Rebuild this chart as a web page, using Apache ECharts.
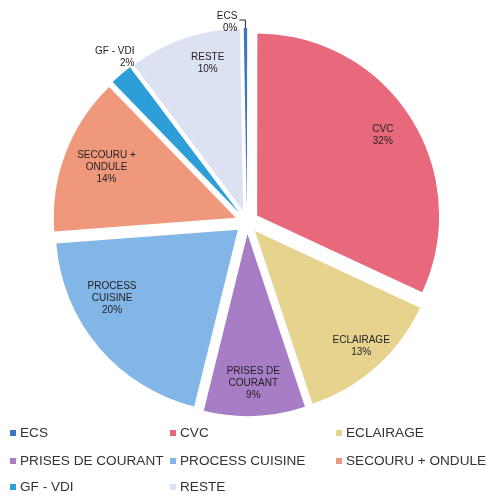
<!DOCTYPE html>
<html>
<head>
<meta charset="utf-8">
<script src="https://cdn.jsdelivr.net/npm/echarts@6/dist/echarts.min.js"></script>
<style>
  html, body { margin: 0; padding: 0; background: #fff; }
  #chart { width: 488px; height: 496px; }
</style>
</head>
<body>
<div id="chart"></div>
<script>
// postes de consommation, dans l'ordre de la légende
const categories = ['ECS', 'CVC', 'ECLAIRAGE', 'PRISES DE COURANT', 'PROCESS CUISINE', 'SECOURU + ONDULE', 'GF - VDI', 'RESTE'];
const sliceLabels = ['ECS', 'CVC', 'ECLAIRAGE', 'PRISES DE\nCOURANT', 'PROCESS\nCUISINE', 'SECOURU +\nONDULE', 'GF - VDI', 'RESTE'];
const shares = [0.3, 32, 13, 9, 20, 14, 2, 10];
const colors = ['#3f74c6', '#e8697c', '#e6d38e', '#a77dc6', '#82b6e6', '#f0987c', '#2d9ed8', '#dde2f3'];
const outsideLabels = ['ECS', 'GF - VDI'];

// petits décalages des étiquettes (placement "au mieux" comme Excel)
const labelNudge = {
  'ECS': [3, 2],
  'ECLAIRAGE': [7, 4],
  'PROCESS CUISINE': [-12, -28],
  'SECOURU + ONDULE': [10, 2],
  'GF - VDI': [25, -14],
  'RESTE': [13, -6]
};
const nudge = params => {
  const d = labelNudge[categories[params.dataIndex]] || [0, 0];
  return { dx: d[0], dy: d[1] };
};

// légende : grille de 3 colonnes
const legendCols = [10, 170, 336];
const legendRowsTop = [426, 454, 480];

const pct = p => Math.round(p.percent) + '%';

const mainData = categories.map((name, i) => {
  const item = { name: name, value: shares[i], selected: true, itemStyle: { color: colors[i] } };
  if (outsideLabels.includes(name)) {
    item.label = { show: true };
    item.labelLine = name === 'ECS'
      ? { show: true, length: 8, length2: 6, lineStyle: { color: '#222', width: 1 } }
      : { show: false, length: 4, length2: 4 };
  }
  return item;
});

const ringData = categories.map((name, i) => ({
  name: name,
  value: shares[i],
  selected: true,
  label: { show: !outsideLabels.includes(name) }
}));

const chart = echarts.init(document.getElementById('chart'));
chart.setOption({
  animation: false,
  color: colors,
  legend: categories.map((name, i) => ({
    data: [name],
    left: legendCols[i % 3],
    top: legendRowsTop[Math.floor(i / 3)],
    padding: 0,
    icon: 'rect',
    itemWidth: 6,
    itemHeight: 6,
    selectedMode: false,
    textStyle: { fontFamily: 'Liberation Sans, Arial', fontSize: 13.6, color: '#333', padding: [0, 0, 0, -1] }
  })),
  series: [
    {
      type: 'pie',
      center: [247, 222],
      radius: [0, 182],
      startAngle: 91,
      clockwise: true,
      selectedMode: 'multiple',
      selectedOffset: 12,
      avoidLabelOverlap: false,
      label: {
        show: false,
        position: 'outside',
        formatter: p => sliceLabels[p.dataIndex] + '\n' + pct(p),
        fontFamily: 'Liberation Sans, Arial',
        fontSize: 10,
        color: '#222',
        lineHeight: 12,
        align: 'center'
      },
      labelLayout: nudge,
      emphasis: { disabled: true },
      data: mainData
    },
    {
      type: 'pie',
      center: [247, 222],
      radius: [110, 182],
      startAngle: 91,
      clockwise: true,
      selectedMode: 'multiple',
      selectedOffset: 12,
      silent: true,
      itemStyle: { color: 'transparent' },
      label: {
        position: 'inside',
        formatter: p => sliceLabels[p.dataIndex] + '\n' + pct(p),
        fontFamily: 'Liberation Sans, Arial',
        fontSize: 10,
        color: '#222',
        lineHeight: 12,
        textBorderWidth: 0
      },
      labelLayout: nudge,
      labelLine: { show: false },
      emphasis: { disabled: true },
      tooltip: { show: false },
      data: ringData
    }
  ]
});
</script>
</body>
</html>
